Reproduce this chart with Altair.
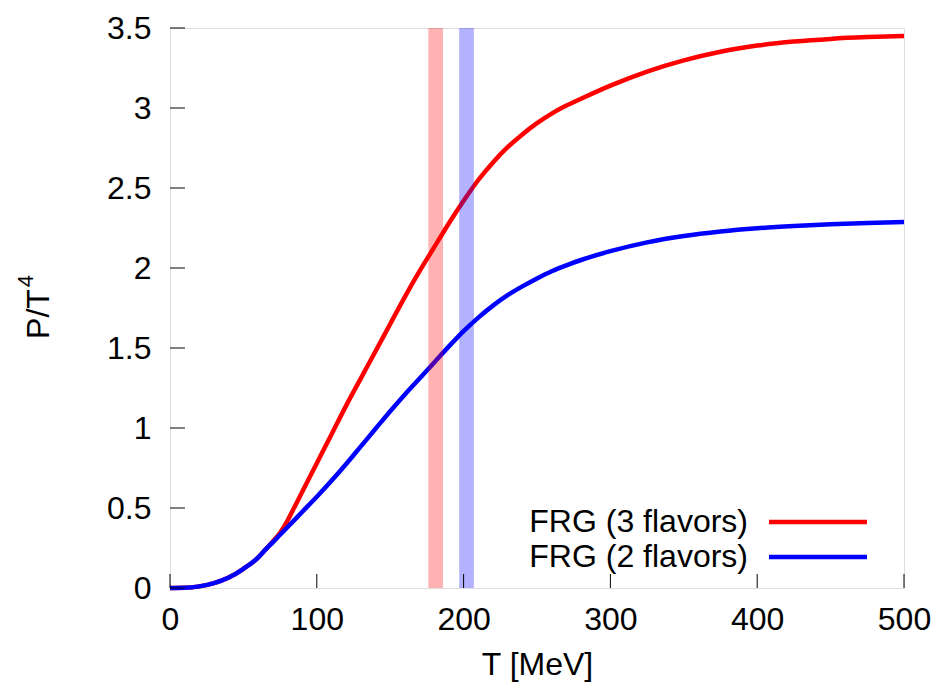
import altair as alt
import pandas as pd

# ---- data ----
series_names = ["FRG (3 flavors)", "FRG (2 flavors)"]
series_colors = ["#ff0000", "#0000ff"]

T_3f = [0, 10, 20, 30, 40, 50, 60, 65, 70, 75, 80, 85, 90, 100, 110, 120, 130,
        140, 150, 160, 170, 180, 190, 200, 210, 220, 230, 240, 250, 260, 270,
        280, 300, 325, 350, 375, 400, 425, 450, 475, 500]
P_3f = [0.0, 0.001, 0.01, 0.03, 0.065, 0.12, 0.19, 0.24, 0.29, 0.345, 0.42,
        0.51, 0.60, 0.78, 0.96, 1.14, 1.31, 1.48, 1.65, 1.82, 1.98, 2.13,
        2.28, 2.42, 2.55, 2.66, 2.755, 2.835, 2.905, 2.965, 3.015, 3.058,
        3.14, 3.228, 3.298, 3.352, 3.39, 3.415, 3.432, 3.443, 3.45]

T_2f = [0, 10, 20, 30, 40, 50, 60, 65, 70, 75, 80, 90, 100, 110, 120, 130,
        140, 150, 160, 170, 180, 190, 200, 210, 220, 230, 240, 250, 260, 270,
        280, 300, 325, 350, 375, 400, 425, 450, 475, 500]
P_2f = [0.0, 0.001, 0.01, 0.03, 0.065, 0.12, 0.19, 0.24, 0.285, 0.333, 0.38,
        0.475, 0.57, 0.67, 0.775, 0.885, 0.995, 1.105, 1.21, 1.31, 1.41,
        1.51, 1.605, 1.69, 1.765, 1.83, 1.885, 1.935, 1.98, 2.017, 2.05,
        2.105, 2.16, 2.20, 2.228, 2.248, 2.262, 2.273, 2.281, 2.288]

band_lo = [176, 197]
band_hi = [186, 207]

x_ticks = [0, 100, 200, 300, 400, 500]
y_ticks = [0, 0.5, 1, 1.5, 2, 2.5, 3, 3.5]

y_title_main = "P/T"
y_title_sup = "4"
x_title = "T [MeV]"

# ---- layout ----
W, H = 734, 560
FONT = "Liberation Sans"
FS = 32
LW = 4.5

df3 = pd.DataFrame({"T": T_3f, "P": P_3f})
df2 = pd.DataFrame({"T": T_2f, "P": P_2f})
bands = pd.DataFrame({"lo": band_lo, "hi": band_hi, "series": series_names})
xt = pd.DataFrame({"T": x_ticks})
yt = pd.DataFrame({"P": y_ticks})

xs = alt.Scale(domain=[0, 500], nice=False, zero=False)
ys = alt.Scale(domain=[0, 3.5], nice=False, zero=False)
cs = alt.Scale(domain=series_names, range=series_colors)

x_axis = alt.Axis(values=x_ticks, title=x_title, domain=False, ticks=False,
                  grid=False, labelFont=FONT, labelFontSize=FS, labelColor="black",
                  titleFont=FONT, titleFontSize=FS, titleFontWeight="normal",
                  titleColor="black", labelPadding=16, titlePadding=14,
                  labelFlush=False)
y_axis = alt.Axis(values=y_ticks, title=None, format=".1~f", domain=False,
                  ticks=False, grid=False, labelFont=FONT, labelFontSize=FS,
                  labelColor="black", labelPadding=19, labelFlush=False)

line3 = alt.Chart(df3).mark_line(strokeWidth=LW, color=series_colors[0],
                                 interpolate="monotone").encode(
    x=alt.X("T:Q", scale=xs, axis=x_axis),
    y=alt.Y("P:Q", scale=ys, axis=y_axis),
)
line2 = alt.Chart(df2).mark_line(strokeWidth=LW, color=series_colors[1],
                                 interpolate="monotone").encode(
    x=alt.X("T:Q", scale=xs, axis=x_axis),
    y=alt.Y("P:Q", scale=ys, axis=y_axis),
)

band_layer = alt.Chart(bands).mark_rect(opacity=0.3).encode(
    x=alt.X("lo:Q", scale=xs, axis=x_axis),
    x2="hi:Q",
    y=alt.value(0),
    y2=alt.value(H),
    color=alt.Color("series:N", scale=cs, legend=None),
)

xtick_layer = alt.Chart(xt).mark_rule(color="black", strokeWidth=1).encode(
    x=alt.X("T:Q", scale=xs, axis=x_axis),
    y=alt.value(H),
    y2=alt.value(H - 14),
)
ytick_layer = alt.Chart(yt).mark_rule(color="black", strokeWidth=1).encode(
    y=alt.Y("P:Q", scale=ys, axis=y_axis),
    x=alt.value(0),
    x2=alt.value(15),
)

# y-axis title with a real superscript
ytitle_df = pd.DataFrame({"t": [y_title_main]})
ysup_df = pd.DataFrame({"t": [y_title_sup]})
ytitle = alt.Chart(ytitle_df).mark_text(
    angle=270, align="center", baseline="alphabetic", font=FONT, fontSize=FS,
    color="black").encode(text="t:N", x=alt.value(-121), y=alt.value(286))
ysup = alt.Chart(ysup_df).mark_text(
    angle=270, align="center", baseline="alphabetic", font=FONT, fontSize=22,
    color="black").encode(text="t:N", x=alt.value(-137), y=alt.value(253))

leg_rows = [494, 529]
legend_layers = []
for i, name in enumerate(series_names):
    ldf = pd.DataFrame({"name": [name]})
    legend_layers.append(
        alt.Chart(ldf).mark_text(align="right", baseline="middle", font=FONT,
                                 fontSize=FS, color="black").encode(
            text="name:N", x=alt.value(578), y=alt.value(leg_rows[i]))
    )
    legend_layers.append(
        alt.Chart(ldf).mark_rule(color=series_colors[i], strokeWidth=LW).encode(
            x=alt.value(599), x2=alt.value(697), y=alt.value(leg_rows[i]))
    )

chart = alt.layer(
    line3, line2, band_layer, xtick_layer, ytick_layer, ytitle, ysup,
    *legend_layers
).properties(
    width=W, height=H,
    autosize=alt.AutoSizeParams(type="none"),
    padding={"left": 170, "top": 28, "right": 39, "bottom": 103},
).configure_view(stroke="black", strokeWidth=1.2).configure(background="white")

chart.save("out.html", embed_options={"renderer": "svg", "actions": False})
